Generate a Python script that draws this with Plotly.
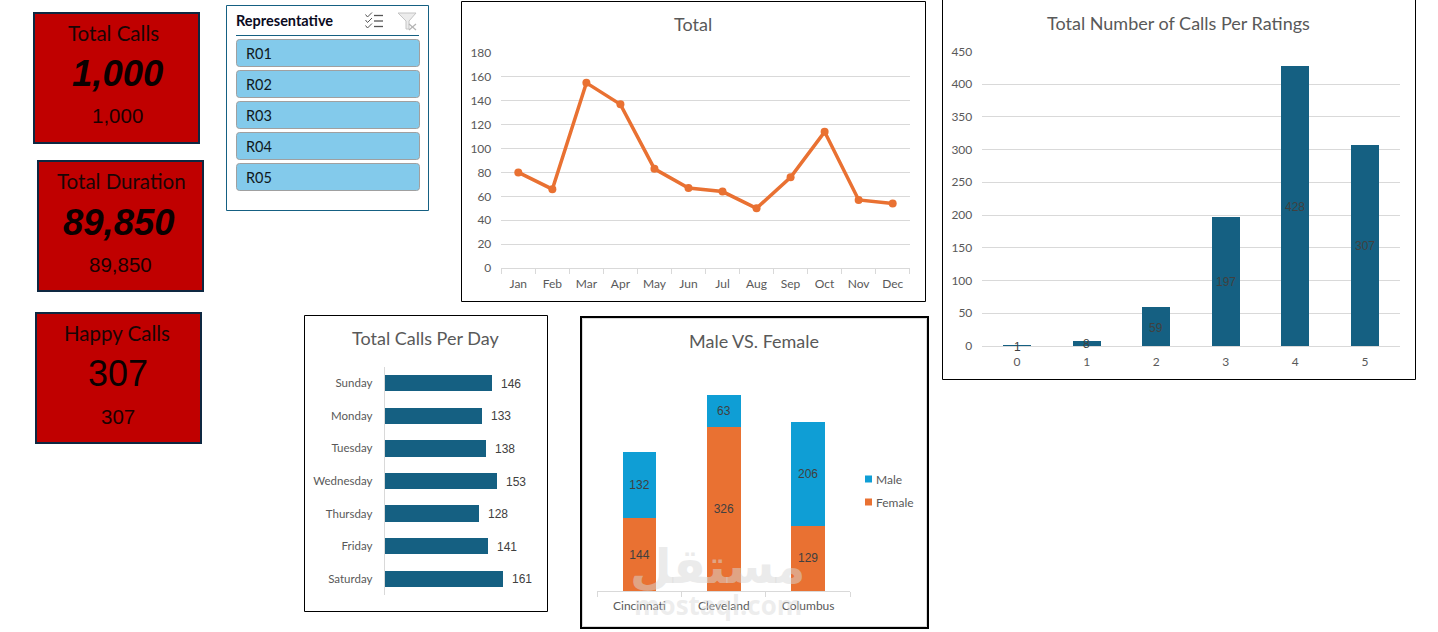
import plotly.graph_objects as go

W, H = 1438, 632

# Monthly call totals
months = ["Jan", "Feb", "Mar", "Apr", "May", "Jun", "Jul", "Aug", "Sep", "Oct", "Nov", "Dec"]
monthly_calls = [80, 66, 155, 137, 83, 67, 64, 50, 76, 114, 57, 54]

# Calls per rating
ratings = ["0", "1", "2", "3", "4", "5"]
rating_calls = [1, 8, 59, 197, 428, 307]

# Calls per weekday
days = ["Sunday", "Monday", "Tuesday", "Wednesday", "Thursday", "Friday", "Saturday"]
day_calls = [146, 133, 138, 153, 128, 141, 161]

# Calls per city by gender
cities = ["Cincinnati", "Cleveland", "Columbus"]
female_calls = [144, 326, 129]
male_calls = [132, 63, 206]

# KPI cards and slicer entries
card_titles = ["Total Calls", "Total Duration", "Happy Calls"]
card_values = ["1,000", "89,850", "307"]
representatives = ["R01", "R02", "R03", "R04", "R05"]

BODY = "Lato"
ARIAL = "Liberation Sans"
GREY = "#595959"
LABEL = "#404040"
GRID = "#D9D9D9"
TEAL = "#156082"
ORANGE = "#E97132"
BLUE = "#0F9ED5"
RED = "#C00000"
NAVY = "#0E2841"


def px(x):
    return x / W


def py(y):
    return 1 - y / H


shapes = []
annotations = []


def box(x0, y0, x1, y1, fill="rgba(0,0,0,0)", line="#000000", width=1):
    shapes.append(dict(type="rect", xref="paper", yref="paper", x0=px(x0), x1=px(x1),
                       y0=py(y1), y1=py(y0), fillcolor=fill, layer="below",
                       line=dict(color=line, width=width)))


def rule(x0, y0, x1, y1, color, width=1):
    shapes.append(dict(type="line", xref="paper", yref="paper", x0=px(x0), x1=px(x1),
                       y0=py(y0), y1=py(y1), line=dict(color=color, width=width)))


def label(text, x, y, size, color=GREY, family=BODY, anchor="center", **kw):
    annotations.append(dict(text=text, xref="paper", yref="paper", x=px(x), y=py(y),
                            xanchor=anchor, yanchor="middle", showarrow=False,
                            font=dict(size=size, color=color, family=family), **kw))


def data_label(value, x, y, axis, anchor="center", xshift=0, yshift=0):
    # Value label tied to the axes of its panel
    annotations.append(dict(text=str(value), xref=f"x{axis}", yref=f"y{axis}", x=x, y=y,
                            xanchor=anchor, yanchor="middle", showarrow=False,
                            xshift=xshift, yshift=yshift,
                            font=dict(size=12, color=LABEL, family=ARIAL)))


def rounded(x0, y0, x1, y1, r, fill, line):
    path = (f"M{px(x0 + r)},{py(y0)} L{px(x1 - r)},{py(y0)} Q{px(x1)},{py(y0)} {px(x1)},{py(y0 + r)} "
            f"L{px(x1)},{py(y1 - r)} Q{px(x1)},{py(y1)} {px(x1 - r)},{py(y1)} "
            f"L{px(x0 + r)},{py(y1)} Q{px(x0)},{py(y1)} {px(x0)},{py(y1 - r)} "
            f"L{px(x0)},{py(y0 + r)} Q{px(x0)},{py(y0)} {px(x0 + r)},{py(y0)} Z")
    shapes.append(dict(type="path", xref="paper", yref="paper", path=path, fillcolor=fill,
                       layer="below", line=dict(color=line, width=1)))


def dom_x(x0, x1):
    return [px(x0), px(x1)]


def dom_y(y0, y1):
    return [py(y1), py(y0)]


fig = go.Figure()

# KPI cards
card_boxes = [(34, 13, 199, 143), (38, 161, 203, 291), (36, 313, 201, 443)]
card_centres = [(113.5, 33, 117, 74, 117, 116), (121, 181, 119, 222, 120, 264), (117, 333, 118, 373, 118, 416)]
for i, (b, c) in enumerate(zip(card_boxes, card_centres)):
    box(*b, fill=RED, line=NAVY, width=2)
    label(card_titles[i], c[0], c[1], 20.5, color="#1a0505")
    big = f"<b><i>{card_values[i]}</i></b>" if i < 2 else card_values[i]
    label(big, c[2], c[3], 36.5 if i < 2 else 36, color="#0a0000", family=ARIAL)
    label(card_values[i], c[4], c[5], 20.5, color="#1a0000", family=ARIAL)

# Representative slicer
box(226.5, 5.5, 428.5, 210.5, line=TEAL)
label("<b>Representative</b>", 234, 21, 14.5, color="#0a0a1e", anchor="left")
rule(236, 35.5, 419, 35.5, TEAL)
for i, rep in enumerate(representatives):
    top = 39.5 + 31 * i
    rounded(236.5, top, 419.5, top + 27, 3, "#83CAEB", "#A0A0A0")
    label(rep, 244, top + 14, 14.5, color="#101820", anchor="left")

# Multi-select icon: three ticks beside three bars
for y in (15.5, 21, 26.5):
    rule(374, y, 383, y, "#555555", 1.3)
    rule(365.5, y - 1, 367.5, y + 1.5, "#555555", 1)
    rule(367.5, y + 1.5, 372, y - 3, "#555555", 1)
# Clear-filter icon: funnel with a small cross
funnel = (f"M{px(398)},{py(13)} L{px(416)},{py(13)} L{px(409)},{py(21)} L{px(409)},{py(29)} "
          f"L{px(406)},{py(29)} L{px(406)},{py(21)} Z")
shapes.append(dict(type="path", xref="paper", yref="paper", path=funnel,
                   fillcolor="#ECECEC", line=dict(color="#C4C4C4", width=1)))
rule(409, 24, 416, 30, "#B4B4B4", 1.2)
rule(416, 24, 409, 30, "#B4B4B4", 1.2)

# Panel frames and titles
box(461.5, 1.5, 925.5, 301.5)
box(942.5, -3, 1415.5, 379.5)
box(304.5, 315.5, 547.5, 611.5)
box(581, 317, 928, 628, line="#000000", width=2)
box(582.5, 318.5, 926.5, 626.5, line="#D9D9D9", width=1)
label("Total", 693, 24, 18)
label("Total Number of Calls Per Ratings", 1178.5, 23, 18)
label("Total Calls Per Day", 426, 338, 18)
label("Male VS. Female", 754, 341, 18)

tick_font = dict(family=BODY, size=12, color=GREY)
day_font = dict(family=BODY, size=11.5, color=GREY)
label_font = dict(family=ARIAL, size=12, color=LABEL)

# Monthly line chart
fig.add_trace(go.Scatter(x=months, y=monthly_calls, mode="lines+markers", xaxis="x", yaxis="y",
                         line=dict(color=ORANGE, width=3.5), marker=dict(color=ORANGE, size=8),
                         showlegend=False))

# Ratings columns with centred value labels
fig.add_trace(go.Bar(x=ratings, y=rating_calls, xaxis="x2", yaxis="y2", marker_color=TEAL,
                     marker_line_width=0, showlegend=False))
for rating, calls in zip(ratings, rating_calls):
    data_label(calls, rating, calls / 2, 2, yshift=-1)

# Weekday bars with values past the bar ends
fig.add_trace(go.Bar(y=days, x=day_calls, orientation="h", width=0.5, xaxis="x3", yaxis="y3",
                     marker_color=TEAL, marker_line_width=0, showlegend=False))
for day, calls in zip(days, day_calls):
    data_label(calls, calls, day, 3, anchor="left", xshift=7, yshift=-0.5)

# Stacked city columns
fig.add_trace(go.Bar(x=cities, y=female_calls, name="Female", xaxis="x4", yaxis="y4", marker_color=ORANGE,
                     marker_line_width=0, showlegend=False, text=female_calls, textposition="inside",
                     insidetextanchor="middle", textangle=0, textfont=label_font))
fig.add_trace(go.Bar(x=cities, y=male_calls, name="Male", xaxis="x4", yaxis="y4", marker_color=BLUE,
                     marker_line_width=0, showlegend=False, text=male_calls, textposition="inside",
                     insidetextanchor="middle", textangle=0, textfont=label_font))

# Key for the stacked columns
for name, colour, y in (("Male", BLUE, 479), ("Female", ORANGE, 502)):
    box(865, y - 3.5, 872, y + 3.5, fill=colour, line=colour, width=0)
    label(name, 874, y, 12, anchor="left")

# Site stamp across the lower part of the stacked chart
label("<b>\u0645\u0633\u062a\u0642\u0644</b>", 718, 566, 48, color="rgba(215,215,215,0.5)", family="DejaVu Sans")
label("<b>mostaql.com</b>", 718, 605, 26, color="rgba(215,215,215,0.45)", family="Open Sans")

fig.update_layout(
    width=W, height=H, margin=dict(l=0, r=0, t=0, b=0), autosize=False,
    paper_bgcolor="white", plot_bgcolor="rgba(0,0,0,0)", showlegend=False,
    shapes=shapes, annotations=annotations, barmode="stack", bargap=0.6,
    xaxis=dict(domain=dom_x(501.3, 909.7), anchor="y", type="category", tickson="boundaries",
               ticks="outside", ticklen=5, tickcolor=GRID, showgrid=False, showline=True,
               linecolor=GRID, tickfont=tick_font, range=[-0.5, 11.5], automargin=False,
               ticklabelstandoff=5),
    yaxis=dict(domain=dom_y(53, 268), anchor="x", range=[0, 180], dtick=20, gridcolor=GRID,
               zeroline=False, tickfont=tick_font, ticks="", ticklabelstandoff=9, automargin=False),
    xaxis2=dict(domain=dom_x(982.3, 1399.7), anchor="y2", type="category", ticks="", showgrid=False,
                showline=True, linecolor=GRID, tickfont=tick_font, range=[-0.5, 5.5], automargin=False,
                ticklabelstandoff=5),
    yaxis2=dict(domain=dom_y(51.3, 346), anchor="x2", range=[0, 450], dtick=50, gridcolor=GRID,
                zeroline=False, tickfont=tick_font, ticks="", ticklabelstandoff=9, automargin=False),
    xaxis3=dict(domain=dom_x(384.7, 530), anchor="y3", range=[0, 197.7], visible=False, automargin=False),
    yaxis3=dict(domain=dom_y(367, 595), anchor="x3", type="category", autorange="reversed",
                categoryorder="array", categoryarray=days, showgrid=False, showline=True,
                linecolor=GRID, ticks="", tickfont=day_font, ticklabelstandoff=9, automargin=False),
    xaxis4=dict(domain=dom_x(597.3, 850.3), anchor="y4", type="category", tickson="boundaries",
                ticks="outside", ticklen=5, tickcolor=GRID, showgrid=False, showline=True,
                linecolor=GRID, tickfont=tick_font, range=[-0.5, 2.5], automargin=False,
                ticklabelstandoff=4),
    yaxis4=dict(domain=dom_y(375, 591), anchor="x4", range=[0, 428.6], visible=False, automargin=False),
)
fig.write_html("out.html", config=dict(displayModeBar=False))
